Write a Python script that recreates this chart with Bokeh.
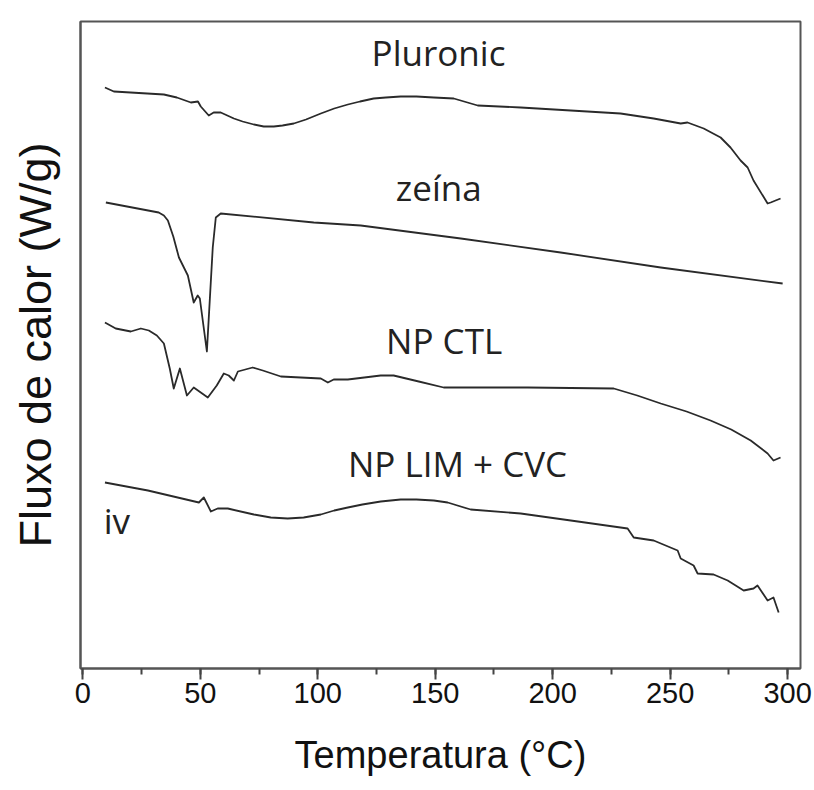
from bokeh.plotting import figure
from bokeh.models import Range1d, SingleIntervalTicker, FixedTicker, ColumnDataSource
from bokeh.core.properties import value
from bokeh.embed import file_html
from bokeh.resources import INLINE

# DSC curves: temperature (°C) and heat flow (arbitrary offset units)
pluronic_t = [9.4, 13.2, 34.5, 40.0, 46.0, 49.0, 50.2, 53.6, 55.7, 58.7, 64.3, 68.0, 72.8, 77.0,
              81.3, 85.0, 89.8, 95.0, 101.3, 107.0, 112.8, 118.0, 123.8, 129.0, 135.3, 142.0,
              149.4, 157.9, 168.1, 186.4, 207.7, 228.9, 243.0, 254.5, 257.4,
              264.3, 271.5, 275.7, 280.0, 283.0, 285.5, 291.5, 292.8, 297.0]
pluronic_y = [581, 577, 574, 571, 566, 567, 562, 553, 556, 556, 550, 547, 544, 542,
              542, 543, 545, 549, 555, 560, 564, 567, 570, 571, 572, 572,
              571, 570, 563, 561, 558, 555, 550, 545, 546,
              540, 531, 521, 508, 501, 488, 465, 466, 470]

zeina_t = [9.8, 32.3, 34.5, 36.2, 38.5, 40.9, 44.7, 47.2, 48.9, 49.8, 52.8, 55.3, 56.6, 58.7,
           98.3, 118.3, 160.9, 203.4, 246.0, 297.9]
zeina_y = [466, 456, 453, 448, 432, 411, 393, 366, 373, 370, 317, 421, 451, 455,
           446, 443, 430, 416, 401, 385]

npctl_t = [9.4, 14.0, 20.4, 24.7, 28.1, 31.5, 34.5, 37.0, 38.7, 41.3, 44.3, 47.2, 53.2, 57.0,
           60.0, 62.1, 64.3, 66.0, 72.3, 76.6, 84.3, 101.3, 104.3, 106.8, 112.8, 126.8, 132.3,
           143.0, 153.6, 189.4, 226.0, 236.0, 246.0, 257.0, 267.2, 276.0, 284.3, 291.5, 294.0, 297.0]
npctl_y = [346, 340, 337, 340, 338, 333, 325, 300, 280, 300, 273, 281, 271, 283,
           295, 293, 288, 297, 301, 298, 292, 290, 286, 289, 289, 293, 293,
           287, 281, 281, 280, 273, 265, 257, 248, 239, 228, 215, 208, 211]

nplim_t = [9.4, 27.7, 49.4, 51.5, 54.5, 57.4, 61.7, 72.8, 80.0, 87.2, 94.0, 101.3, 107.0,
           112.8, 119.0, 126.8, 135.3, 142.0, 149.4, 155.3, 165.1, 186.4, 207.7, 231.9, 234.5,
           243.0, 253.2, 254.5, 260.0, 261.7, 268.5, 274.5, 281.3, 285.5, 287.2, 291.5, 294.0, 296.2]
nplim_y = [186, 178, 166, 171, 157, 160, 160, 154, 151, 150, 151, 154, 158,
           161, 164, 167, 169, 169, 168, 166, 159, 155, 148, 140, 131,
           128, 118, 110, 103, 95, 94, 88, 78, 80, 83, 68, 71, 56]

label_text = ["Pluronic", "zeína", "NP CTL", "NP LIM + CVC", "iv"]
label_t = [151.4, 151.5, 153.8, 159.5, 8.9]
label_y = [616, 481, 328, 205, 148]
label_align = ["center", "center", "center", "center", "left"]

x_title = "Temperatura (°C)"
y_title = "Fluxo de calor (W/g)"

p = figure(width=814, height=790, output_backend="svg", toolbar_location=None,
           x_range=Range1d(-1, 305.5), y_range=Range1d(0, 647),
           min_border_left=80, min_border_right=14, min_border_top=21, min_border_bottom=122)
p.grid.visible = False
p.background_fill_color = "white"
p.border_fill_color = "white"
p.outline_line_color = "#555555"
p.outline_line_width = 2

line_color = "#2a2a2a"
for t, y in [(pluronic_t, pluronic_y), (zeina_t, zeina_y), (npctl_t, npctl_y), (nplim_t, nplim_y)]:
    p.line(t, y, line_color=line_color, line_width=1.8, line_join="round")

src = ColumnDataSource(dict(x=label_t, y=label_y, text=label_text, align=label_align))
p.text(x="x", y="y", text="text", source=src, text_align="align", text_baseline="alphabetic",
       text_font=value("Open Sans"), text_font_size="35px", text_color="#222222")

xa = p.xaxis[0]
xa.ticker = SingleIntervalTicker(interval=50, num_minor_ticks=2)
xa.axis_line_color = "#555555"
xa.axis_line_width = 2
xa.major_tick_line_color = "#444444"
xa.major_tick_line_width = 2
xa.major_tick_out = 11
xa.major_tick_in = 0
xa.minor_tick_line_color = "#444444"
xa.minor_tick_line_width = 2
xa.minor_tick_out = 6
xa.minor_tick_in = 0
xa.major_label_text_font = "Liberation Sans"
xa.major_label_text_font_size = "29px"
xa.major_label_text_color = "#111111"
xa.major_label_standoff = 3
xa.axis_label = x_title
xa.axis_label_text_font = "Liberation Sans"
xa.axis_label_text_font_size = "38px"
xa.axis_label_text_font_style = "normal"
xa.axis_label_text_color = "#111111"
xa.axis_label_standoff = 28

ya = p.yaxis[0]
ya.ticker = FixedTicker(ticks=[])
ya.axis_line_color = "#555555"
ya.axis_line_width = 2
ya.major_tick_line_color = None
ya.minor_tick_line_color = None
ya.major_label_text_font_size = "0px"
ya.axis_label = y_title
ya.axis_label_text_font = "Liberation Sans"
ya.axis_label_text_font_size = "45px"
ya.axis_label_text_font_style = "normal"
ya.axis_label_text_color = "#111111"
ya.axis_label_standoff = 20

open("out.html", "w").write(file_html(p, INLINE))
